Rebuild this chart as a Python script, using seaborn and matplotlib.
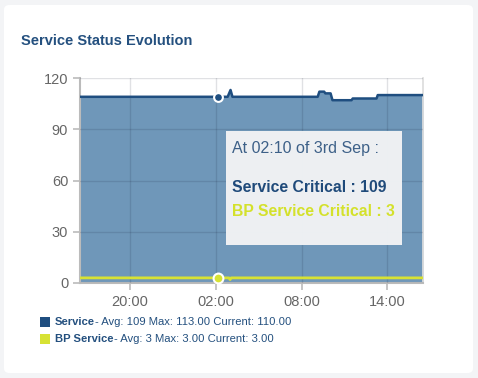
import pandas as pd
import numpy as np
import matplotlib
matplotlib.use("Agg")
import matplotlib.pyplot as plt
import matplotlib.dates as mdates
from matplotlib.patches import FancyBboxPatch, Rectangle
import seaborn as sns

# ----------------------
# data
# ----------------------
svc_times = ["2023-09-02 16:30", "2023-09-03 02:10", "2023-09-03 02:50", "2023-09-03 03:02",
             "2023-09-03 03:10", "2023-09-03 09:08", "2023-09-03 09:15", "2023-09-03 09:35",
             "2023-09-03 09:40", "2023-09-03 10:02", "2023-09-03 10:10", "2023-09-03 11:30",
             "2023-09-03 11:35", "2023-09-03 13:15", "2023-09-03 13:20", "2023-09-03 16:30"]
svc_values = [109, 109, 109, 113, 109, 109, 112, 112, 111, 111, 107, 107, 108, 108, 110, 110]

bp_times = ["2023-09-02 16:30", "2023-09-03 02:55", "2023-09-03 03:00",
            "2023-09-03 03:05", "2023-09-03 16:30"]
bp_values = [3, 3, 2, 3, 3]

hover_time = "2023-09-03 02:10"
hover_svc = 109
hover_bp = 3

y_ticks = [0, 30, 60, 90, 120]
legend_names = ["Service", "BP Service"]
legend_stats = ["- Avg: 109 Max: 113.00 Current: 110.00", "- Avg: 3 Max: 3.00 Current: 3.00"]

svc_color = "#1f4e80"
fill_color = "#6f97b9"
bp_color = "#d7e234"

svc = pd.DataFrame({"time": pd.to_datetime(svc_times), "value": svc_values})
bp = pd.DataFrame({"time": pd.to_datetime(bp_times), "value": bp_values})

# ----------------------
# figure / card
# ----------------------
sns.set_theme(style="white")
plt.rcParams["font.family"] = ["Liberation Sans", "DejaVu Sans"]

fig = plt.figure(figsize=(4.78, 3.78), dpi=100)
fig.patch.set_facecolor("#f3f4f6")
card = FancyBboxPatch((4 / 478, 5 / 378), 469 / 478, 368 / 378,
                      boxstyle="round,pad=0,rounding_size=0.012",
                      transform=fig.transFigure, facecolor="white", edgecolor="none", zorder=0)
fig.add_artist(card)

fig.text(21 / 478, 1 - 41 / 378, "Service Status Evolution", fontsize=10.5, fontweight="bold",
         color="#24507f", va="center", ha="left")

ax = fig.add_axes([80 / 478, 1 - 283 / 378, 343 / 478, 205 / 378])
ax.set_facecolor("none")

ax.fill_between(svc["time"], svc["value"], 0, color=fill_color, lw=0, zorder=1)
sns.lineplot(data=svc, x="time", y="value", ax=ax, color=svc_color, lw=1.8, zorder=3)
sns.lineplot(data=bp, x="time", y="value", ax=ax, color=bp_color, lw=2, zorder=3)

ht = pd.to_datetime(hover_time)
ax.scatter([ht], [hover_svc], s=40, color=svc_color, edgecolor="white", linewidth=1.5, zorder=5)
ax.scatter([ht], [hover_bp], s=50, color=bp_color, edgecolor="white", linewidth=1.5, zorder=5)

ax.set_xlim(svc["time"].iloc[0], svc["time"].iloc[-1])
ax.set_ylim(0, 120)
ax.set_yticks(y_ticks)
ax.xaxis.set_major_locator(mdates.HourLocator(byhour=[20, 2, 8, 14]))
ax.xaxis.set_major_formatter(mdates.DateFormatter("%H:%M"))
ax.set_xlabel("")
ax.set_ylabel("")

ax.set_axisbelow(False)
ax.grid(True, color="#101830", alpha=0.13, lw=1)
ax.spines["top"].set_visible(False)
ax.spines["right"].set_color("#dddddd")
ax.spines["left"].set_color("#bbbbbb")
ax.spines["left"].set_linewidth(1.5)
ax.spines["bottom"].set_color("#bbbbbb")
ax.spines["bottom"].set_linewidth(1.5)
ax.tick_params(axis="both", colors="#bbbbbb", labelcolor="#666666", labelsize=10.5,
               length=5, width=1.2, direction="out", bottom=True, left=True)

# ----------------------
# tooltip
# ----------------------
tip = Rectangle((226 / 478, 1 - 245 / 378), 176 / 478, 114 / 378, transform=fig.transFigure,
                facecolor="#f2f3f5", edgecolor="none", alpha=0.97, zorder=6)
fig.add_artist(tip)
fig.text(232 / 478, 1 - 148 / 378, "At 02:10 of 3rd Sep :", fontsize=11.5, color="#3d6088",
         va="center", ha="left", zorder=7)
fig.text(232 / 478, 1 - 188 / 378, f"Service Critical : {hover_svc}", fontsize=11.3,
         fontweight="bold", color="#1f4a7a", va="center", ha="left", zorder=7)
fig.text(232 / 478, 1 - 212 / 378, f"BP Service Critical : {hover_bp}", fontsize=11.3,
         fontweight="bold", color="#d4e12b", va="center", ha="left", zorder=7)

# ----------------------
# legend
# ----------------------
renderer = fig.canvas.get_renderer()
for i, (name, stats, col) in enumerate(zip(legend_names, legend_stats, [svc_color, bp_color])):
    yc = 322 + i * 17
    fig.add_artist(Rectangle((40 / 478, 1 - (yc + 5) / 378), 10 / 478, 10 / 378,
                             transform=fig.transFigure, facecolor=col, edgecolor="none"))
    t = fig.text(55 / 478, 1 - yc / 378, name, fontsize=8.1, fontweight="bold",
                 color="#24507f", va="center", ha="left")
    bb = t.get_window_extent(renderer)
    fig.text(bb.x1 / fig.bbox.width, 1 - yc / 378, stats, fontsize=8.1,
             color="#24507f", va="center", ha="left")

fig.savefig("out.png", dpi=100, facecolor=fig.get_facecolor())
